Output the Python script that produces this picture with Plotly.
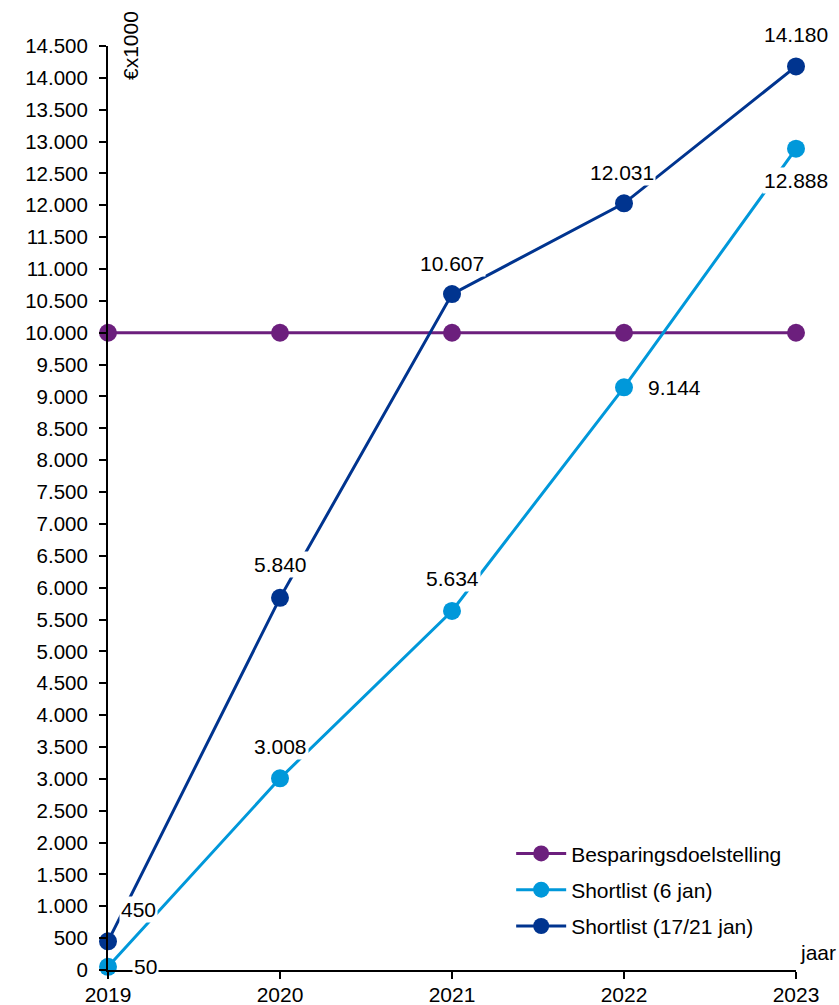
import plotly.graph_objects as go

years = [2019, 2020, 2021, 2022, 2023]
doel = [10000, 10000, 10000, 10000, 10000]
short6 = [50, 3008, 5634, 9144, 12888]
short17 = [450, 5840, 10607, 12031, 14180]

names = ["Besparingsdoelstelling", "Shortlist (6 jan)", "Shortlist (17/21 jan)"]
colors = ["#6C1F7D", "#0098DA", "#00348F"]

ytick_vals = list(range(0, 14501, 500))
ytick_text = [f"{v:,}".replace(",", ".") for v in ytick_vals]

# label offsets (pixels) per point: (xshift, yshift)
off6 = [(37, 0), (0, 32), (0, 32), (50, 0), (0, -32)]
off17 = [(30, 32), (0, 33), (0, 31), (-2, 31), (0, 32)]

FONT = "Liberation Sans, Arial, sans-serif"

fig = go.Figure()
for i, (name, col, vals) in enumerate(zip(names, colors, [doel, short6, short17])):
    fig.add_trace(go.Scatter(
        x=years, y=vals, name=name, mode="lines+markers",
        line=dict(color=col, width=3),
        marker=dict(color=col, size=18),
        cliponaxis=False, legendgroup=f"g{i}",
    ))

annotations = []
for vals, offs in [(short6, off6), (short17, off17)]:
    for x, v, (dx, dy) in zip(years, vals, offs):
        annotations.append(dict(
            x=x, y=v, xref="x", yref="y",
            text=f"{v:,}".replace(",", "."),
            showarrow=False, xshift=dx, yshift=dy,
            bgcolor="white", borderpad=1,
            font=dict(size=21, color="black", family=FONT),
        ))

annotations.append(dict(
    x=0.032, y=1.0, xref="paper", yref="paper", text="€x1000",
    textangle=-90, showarrow=False, xanchor="center", yanchor="middle",
    font=dict(size=21, color="black", family=FONT),
))
annotations.append(dict(
    x=1.032, y=0.019, xref="paper", yref="paper", text="jaar",
    showarrow=False, xanchor="center", yanchor="middle",
    font=dict(size=21, color="black", family=FONT),
))

fig.update_layout(
    width=839, height=1005,
    margin=dict(l=108, r=43, t=46, b=35),
    paper_bgcolor="white", plot_bgcolor="white",
    font=dict(family=FONT, size=21, color="black"),
    showlegend=True,
    legend=dict(x=0.586, y=0.148, xanchor="left", yanchor="top",
                bgcolor="rgba(0,0,0,0)", font=dict(size=21),
                itemwidth=50, tracegroupgap=6),
    annotations=annotations,
)
fig.update_xaxes(
    range=[2019, 2023], tickvals=years, ticktext=[str(y) for y in years],
    showgrid=False, zeroline=False, showline=True, linecolor="black", linewidth=2,
    ticks="outside", ticklen=7, tickwidth=2, tickcolor="black",
    automargin=False, tickfont=dict(size=21), ticklabelstandoff=-2,
)
fig.update_yaxes(
    range=[0, 14500], tickvals=ytick_vals, ticktext=ytick_text,
    showgrid=False, zeroline=False, showline=True, linecolor="black", linewidth=2,
    ticks="outside", ticklen=7, tickwidth=2, tickcolor="black",
    automargin=False, tickfont=dict(size=20.5), ticklabelstandoff=7,
)

fig.write_html("out.html")
